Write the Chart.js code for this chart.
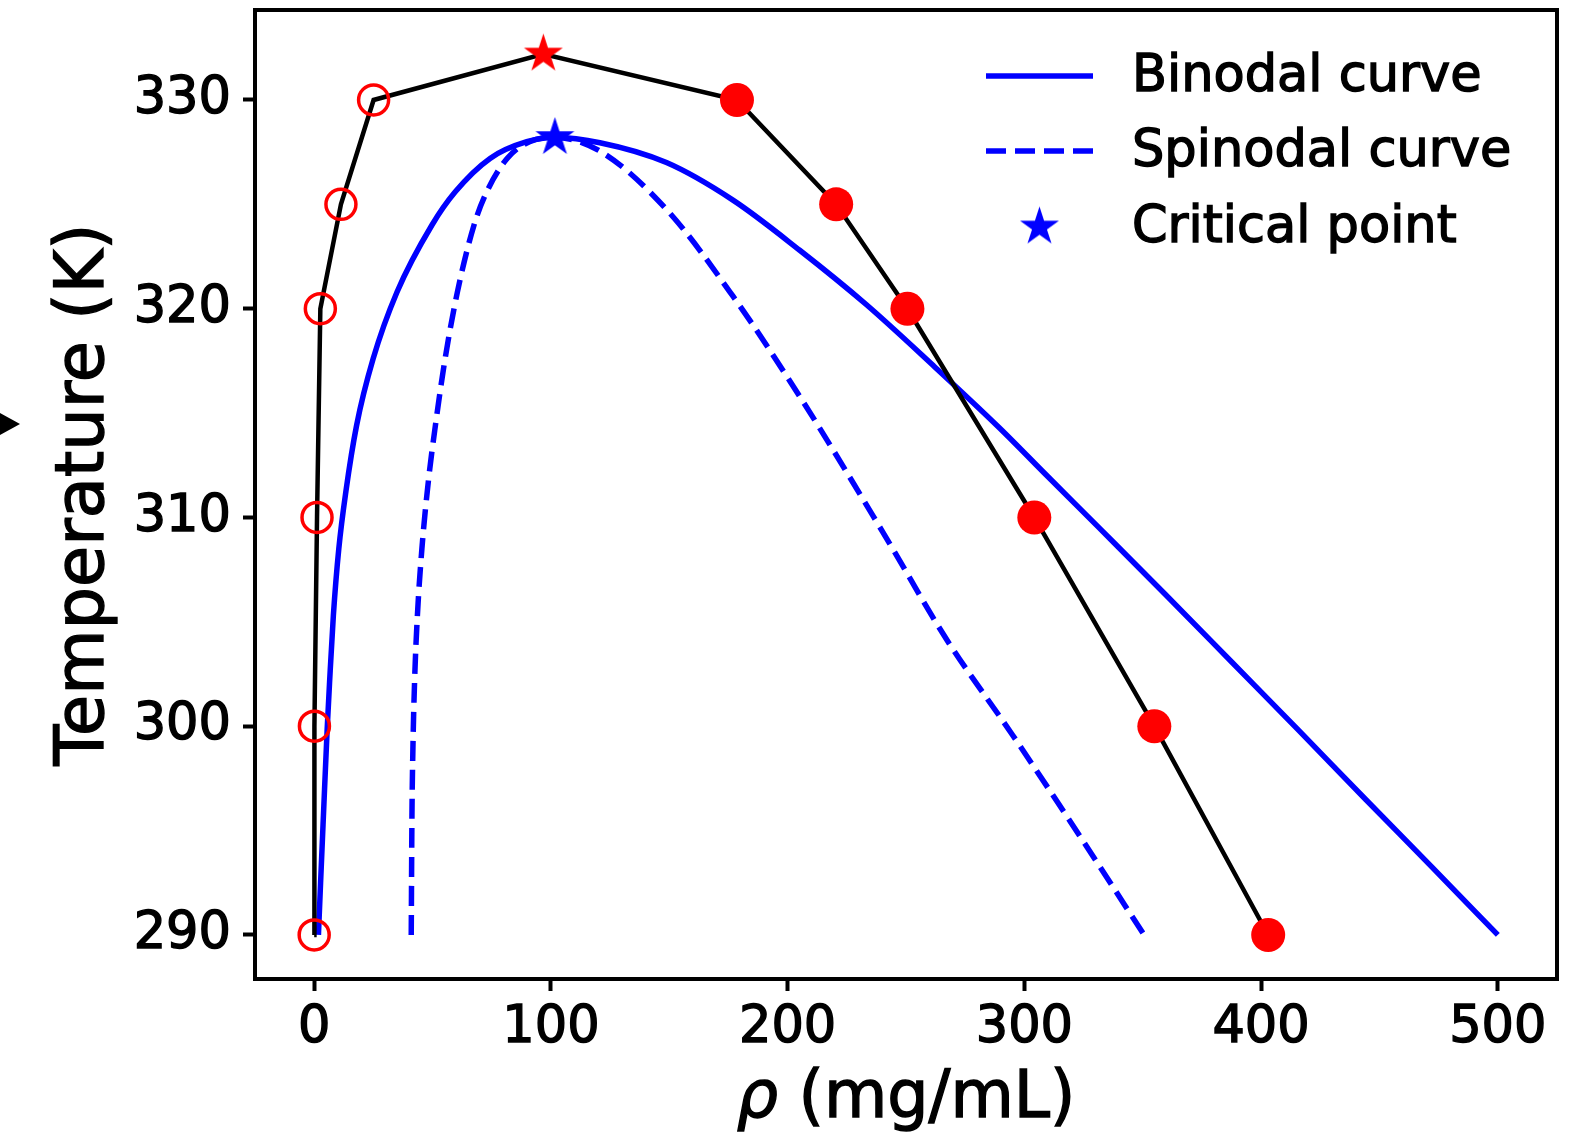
<!DOCTYPE html>
<html>
<head>
<meta charset="utf-8">
<script src="https://cdn.jsdelivr.net/npm/chart.js@4.4.1/dist/chart.umd.min.js"></script>
<style>
  html, body { margin: 0; padding: 0; background: #fff; }
  #wrap { position: relative; width: 1582px; height: 1135px; }
  #mark { position: absolute; left: 0; top: 413px; width: 0; height: 0;
          border-left: 20px solid #000; border-top: 11px solid transparent; border-bottom: 11px solid transparent; }
</style>
</head>
<body>
<div id="wrap"><canvas id="c" width="1582" height="1135"></canvas><div id="mark"></div></div>
<script>
// Measured coexistence points: dilute branch (open) and dense branch (filled)
const tempsDilute = [290, 300, 310, 320, 325, 330];
const rhoDilute   = [0.0, 0.1, 1.2, 2.6, 11.3, 25.1];
const tempsDense  = [330, 325, 320, 310, 300, 290];
const rhoDense    = [178.6, 220.5, 250.6, 304.2, 354.9, 403.0];
const critMeasured = { rho: 96.8, T: 332.2 };

// Model binodal
const binodalRho = [1.8, 2.7, 3.9, 5.5, 6.5, 8.1, 10.4, 13.4, 17.9, 24.9, 35.0, 49.7, 59.6, 74.3, 89.8,
                    101.7, 120.7, 148.8, 176.9, 205.1, 233.2, 261.3, 289.4, 310.0, 331.6, 359.7, 387.8, 415.9, 444.1, 472.2, 500.0];
const binodalT   = [290.0, 292.5, 295.7, 299.9, 302.1, 305.3, 308.5, 311.25, 314.4, 317.6, 320.8, 324.0, 325.6, 327.2, 328.0,
                    328.2, 327.95, 327.0, 325.2, 322.8, 320.2, 317.3, 314.3, 311.95, 309.5, 306.3, 303.05, 299.8, 296.5, 293.25, 290.0];

// Model spinodal
const spinodalRho = [41.0, 41.3, 41.7, 42.4, 43.6, 45.5, 48.2, 51.2, 55.3, 60.5, 67.5, 72.9, 81.5, 91.0,
                     101.7, 120.7, 148.8, 176.9, 205.1, 240.2, 266.9, 295.0, 323.2, 350.6];
const spinodalT   = [290.0, 295.7, 298.9, 302.1, 305.3, 308.5, 311.7, 314.4, 317.6, 320.8, 324.0, 325.6, 327.2, 328.0,
                     328.2, 327.55, 324.76, 320.6, 315.8, 309.3, 304.2, 299.58, 294.78, 290.0];
const critModel = { rho: 101.7, T: 328.2 };

const xTicks = [0, 100, 200, 300, 400, 500];
const yTicks = [290, 300, 310, 320, 330];

const FONT = '"DejaVu Sans", "Liberation Sans", sans-serif';
const RED = '#ff0000', BLUE = '#0000ff';
const TEXT_STROKE = 1.4;

const pts = (xs, ys) => xs.map((x, i) => ({ x, y: ys[i] }));

// five-pointed star sprite used as a point style
function starMarker(color, R) {
  const s = Math.ceil(2 * R + 2);
  const c = document.createElement('canvas');
  c.width = s; c.height = s;
  const g = c.getContext('2d');
  g.translate(s / 2, s / 2);
  g.beginPath();
  for (let i = 0; i < 10; i++) {
    const r = i % 2 ? R * 0.381966 : R;
    const a = -Math.PI / 2 + i * Math.PI / 5;
    g.lineTo(r * Math.cos(a), r * Math.sin(a));
  }
  g.closePath();
  g.fillStyle = color;
  g.fill();
  return c;
}
const redStar = starMarker(RED, 20.5);
const blueStar = starMarker(BLUE, 20.5);

// experimental path: dilute branch up, through the measured critical point, down the dense branch
const expPath = pts(rhoDilute, tempsDilute)
  .concat([{ x: critMeasured.rho, y: critMeasured.T }])
  .concat(pts(rhoDense, tempsDense));

const datasets = [
  { label: 'Binodal curve', data: pts(binodalRho, binodalT), showLine: true, borderColor: BLUE, borderWidth: 5.5,
    pointRadius: 0, cubicInterpolationMode: 'monotone', order: 6 },
  { label: 'Spinodal curve', data: pts(spinodalRho, spinodalT), showLine: true, borderColor: BLUE, borderWidth: 5.5,
    borderDash: [20, 9], pointRadius: 0, cubicInterpolationMode: 'monotone', order: 5 },
  { label: 'Critical point', data: [{ x: critModel.rho, y: critModel.T }], pointStyle: blueStar, pointRadius: 10, order: 4 },
  { label: 'exp', data: expPath, showLine: true, borderColor: '#000', borderWidth: 4.5, pointRadius: 0, tension: 0, order: 3 },
  { label: 'dilute', data: pts(rhoDilute, tempsDilute), pointStyle: 'circle', pointRadius: 15,
    pointBackgroundColor: 'rgba(0,0,0,0)', pointBorderColor: RED, pointBorderWidth: 3.5, order: 2 },
  { label: 'dense', data: pts(rhoDense, tempsDense), pointStyle: 'circle', pointRadius: 17,
    pointBackgroundColor: RED, pointBorderColor: RED, pointBorderWidth: 0, order: 1 },
  { label: 'exp critical', data: [{ x: critMeasured.rho, y: critMeasured.T }], pointStyle: redStar, pointRadius: 10, order: 0 }
];

function drawText(ctx, text, x, y) {
  ctx.fillText(text, x, y);
  ctx.strokeText(text, x, y);
}

const framePlugin = {
  id: 'frameAndLegend',
  afterDraw(chart) {
    const { ctx, chartArea: a } = chart;
    ctx.save();
    // axes frame
    ctx.strokeStyle = '#000';
    ctx.lineWidth = 4;
    ctx.strokeRect(a.left, a.top, a.right - a.left, a.bottom - a.top);

    // legend (upper right, no frame)
    const rows = [0, 1, 2].map(i => chart.data.datasets[i]);
    const hx0 = a.right - 571, hx1 = a.right - 464, tx = a.right - 425;
    const rowY = [a.top + 66, a.top + 141, a.top + 217];
    rows.forEach((ds, i) => {
      const y = rowY[i];
      if (ds.showLine) {
        ctx.beginPath();
        ctx.strokeStyle = ds.borderColor;
        ctx.lineWidth = ds.borderWidth;
        ctx.setLineDash(ds.borderDash || []);
        ctx.moveTo(hx0, y);
        ctx.lineTo(hx1, y);
        ctx.stroke();
        ctx.setLineDash([]);
      } else {
        const img = ds.pointStyle;
        ctx.drawImage(img, (hx0 + hx1) / 2 - img.width / 2, y - img.height / 2);
      }
    });
    ctx.font = '51px ' + FONT;
    ctx.fillStyle = '#000';
    ctx.strokeStyle = '#000';
    ctx.lineWidth = TEXT_STROKE;
    ctx.textBaseline = 'middle';
    ctx.textAlign = 'left';
    rows.forEach((ds, i) => drawText(ctx, ds.label, tx, rowY[i] + 2));

    // x-axis title: italic rho followed by upright units
    const cx = (a.left + a.right) / 2;
    const ty = 1100;
    const f1 = 'italic 65px ' + FONT, f2 = '65px ' + FONT;
    ctx.font = f1; const w1 = ctx.measureText('ρ').width;
    ctx.font = f2; const w2 = ctx.measureText(' (mg/mL)').width;
    const x0 = cx - (w1 + w2) / 2;
    ctx.font = f1; drawText(ctx, 'ρ', x0, ty);
    ctx.font = f2; drawText(ctx, ' (mg/mL)', x0 + w1, ty);

    // y-axis title
    ctx.save();
    ctx.translate(86, (a.top + a.bottom) / 2);
    ctx.rotate(-Math.PI / 2);
    ctx.textAlign = 'center';
    ctx.font = '67px ' + FONT;
    drawText(ctx, 'Temperature (K)', 0, 0);
    ctx.restore();
    ctx.restore();
  }
};

const tickFont = { family: FONT, size: 51 };

new Chart(document.getElementById('c'), {
  type: 'scatter',
  data: { datasets },
  options: {
    responsive: false,
    animation: false,
    events: [],
    devicePixelRatio: 1,
    layout: { autoPadding: false, padding: { top: 10, right: 25, left: 0, bottom: 0 } },
    plugins: { legend: { display: false }, tooltip: { enabled: false } },
    scales: {
      x: {
        type: 'linear', min: -25, max: 525,
        afterBuildTicks: s => { s.ticks = xTicks.map(v => ({ value: v })); },
        afterFit: s => { s.height = 156; s.paddingLeft = 0; s.paddingRight = 0; },
        border: { display: false },
        grid: { drawOnChartArea: false, drawTicks: true, tickLength: 12, tickWidth: 4, tickColor: '#000' },
        ticks: { color: '#000', font: tickFont, padding: 7, maxRotation: 0,
                 textStrokeColor: '#000', textStrokeWidth: TEXT_STROKE }
      },
      y: {
        type: 'linear', min: 287.89, max: 334.31,
        afterBuildTicks: s => { s.ticks = yTicks.map(v => ({ value: v })); },
        afterFit: s => { s.width = 255; s.paddingTop = 0; s.paddingBottom = 0; },
        border: { display: false },
        grid: { drawOnChartArea: false, drawTicks: true, tickLength: 12, tickWidth: 4, tickColor: '#000' },
        ticks: { color: '#000', font: tickFont, padding: 12,
                 textStrokeColor: '#000', textStrokeWidth: TEXT_STROKE }
      }
    }
  },
  plugins: [framePlugin]
});
</script>
</body>
</html>
